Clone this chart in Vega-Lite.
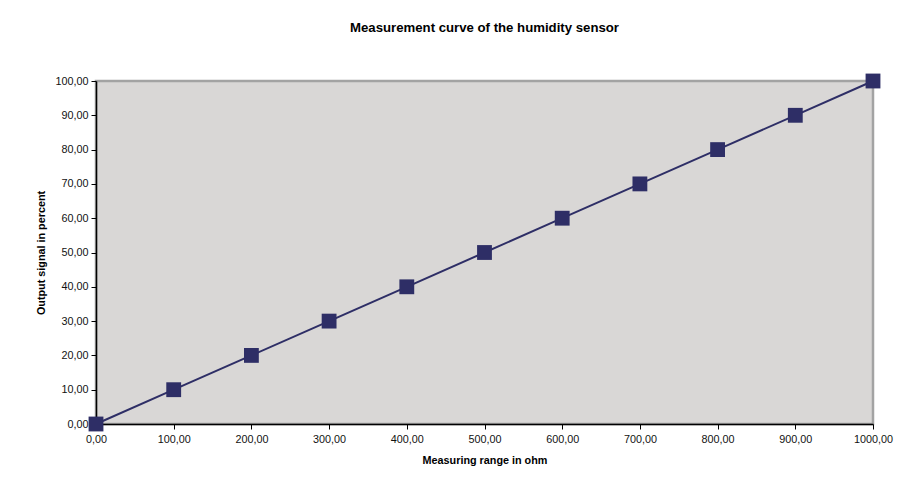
{
  "$schema": "https://vega.github.io/schema/vega-lite/v6.json",
  "width": 777,
  "height": 343,
  "autosize": {"type": "none"},
  "padding": {"left": 96, "top": 81, "right": 46, "bottom": 65},
  "background": "white",
  "config": {
    "locale": {"number": {"decimal": ",", "thousands": ".", "grouping": [3], "currency": ["", ""]}},
    "font": "Liberation Sans",
    "view": {"fill": "#d9d7d6", "stroke": "#a3a3a3", "strokeWidth": 2.5},
    "axis": {
      "grid": false,
      "domainColor": "#000000",
      "domainWidth": 1.5,
      "tickColor": "#000000",
      "tickSize": 5,
      "labelFont": "Liberation Sans",
      "labelFontSize": 10.8,
      "labelColor": "#111111",
      "titleFont": "Liberation Sans",
      "titleFontSize": 10.8,
      "titleFontWeight": "bold",
      "titleColor": "#000000"
    }
  },
  "title": {
    "text": "Measurement curve of the humidity sensor",
    "font": "Liberation Sans",
    "fontSize": 13.2,
    "fontWeight": "bold",
    "color": "#000000",
    "offset": 38,
    "anchor": "middle"
  },
  "data": {
    "values": [
      {"ohm": 0, "pct": 0},
      {"ohm": 100, "pct": 10},
      {"ohm": 200, "pct": 20},
      {"ohm": 300, "pct": 30},
      {"ohm": 400, "pct": 40},
      {"ohm": 500, "pct": 50},
      {"ohm": 600, "pct": 60},
      {"ohm": 700, "pct": 70},
      {"ohm": 800, "pct": 80},
      {"ohm": 900, "pct": 90},
      {"ohm": 1000, "pct": 100}
    ]
  },
  "encoding": {
    "x": {
      "field": "ohm",
      "type": "quantitative",
      "scale": {"domain": [0, 1000], "nice": false, "zero": true},
      "axis": {"title": "Measuring range in ohm", "values": [0,100,200,300,400,500,600,700,800,900,1000], "format": ".2f", "titlePadding": 11, "labelPadding": 4, "labelFlush": false}
    },
    "y": {
      "field": "pct",
      "type": "quantitative",
      "scale": {"domain": [0, 100], "nice": false},
      "axis": {"title": "Output signal in percent", "values": [0,10,20,30,40,50,60,70,80,90,100], "format": ".2f", "titlePadding": 8, "labelPadding": 3, "labelFlush": false}
    }
  },
  "layer": [
    {"mark": {"type": "line", "color": "#2e2e66", "strokeWidth": 2}},
    {"mark": {"type": "square", "color": "#2e2e66", "size": 220, "opacity": 1, "filled": true}}
  ]
}
